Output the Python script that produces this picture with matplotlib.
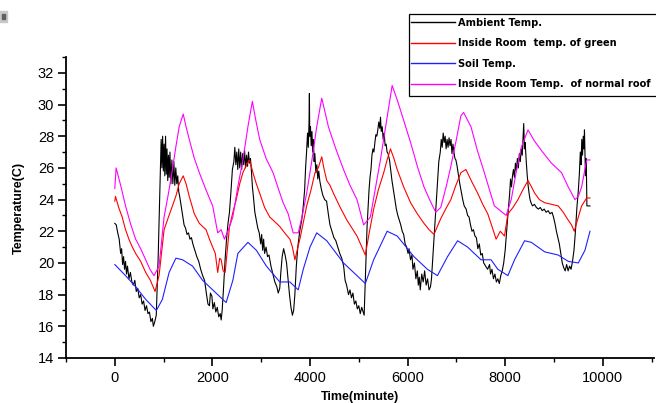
import matplotlib
matplotlib.use("Agg")
import matplotlib.pyplot as plt
from matplotlib.patches import Rectangle
from matplotlib.ticker import MultipleLocator

# ---- data: time (minute) and temperature (C) ----
ambient_t = [0, 30, 60, 90, 120, 140, 160, 180, 200, 220, 240, 260, 290, 320, 350, 380, 410, 440,
             470, 500, 530, 560, 590, 620, 650, 680, 710, 740, 770, 790, 820, 850, 870, 890, 910,
             930, 950, 965, 980, 995, 1010, 1025, 1040, 1055, 1070, 1085, 1100, 1115, 1130, 1150,
             1170, 1190, 1210, 1230, 1250, 1270, 1290, 1310, 1330, 1360, 1390, 1420, 1450, 1480,
             1510, 1540, 1570, 1600, 1640, 1680, 1720, 1760, 1800, 1840, 1880, 1910, 1940, 1960,
             1990, 2010, 2040, 2070, 2100, 2130, 2160, 2180, 2200, 2230, 2260, 2290, 2320, 2350,
             2380, 2410, 2440, 2460, 2480, 2500, 2520, 2540, 2560, 2580, 2600, 2620, 2640, 2660,
             2680, 2700, 2720, 2740, 2760, 2780, 2800, 2820, 2840, 2870, 2900, 2930, 2960, 2990,
             3010, 3030, 3050, 3070, 3100, 3130, 3160, 3200, 3240, 3280, 3320, 3350, 3380, 3400,
             3430, 3460, 3490, 3520, 3550, 3580, 3610, 3640, 3665, 3690, 3720, 3750, 3790, 3830,
             3860, 3890, 3910, 3930, 3950, 3965, 3980, 3988, 3995, 4010, 4025, 4040, 4055, 4070,
             4085, 4100, 4120, 4140, 4160, 4180, 4200, 4230, 4260, 4300, 4340, 4380, 4410, 4450,
             4490, 4530, 4570, 4610, 4650, 4690, 4720, 4750, 4790, 4820, 4850, 4880, 4910, 4940,
             4970, 5000, 5030, 5060, 5090, 5110, 5130, 5150, 5170, 5190, 5210, 5230, 5250, 5270,
             5290, 5310, 5330, 5350, 5370, 5390, 5410, 5430, 5445, 5460, 5480, 5500, 5520, 5540,
             5560, 5580, 5600, 5630, 5650, 5680, 5710, 5740, 5770, 5800, 5830, 5860, 5890, 5920,
             5950, 5980, 6010, 6030, 6060, 6090, 6110, 6140, 6170, 6200, 6220, 6240, 6260, 6290,
             6320, 6350, 6380, 6410, 6440, 6470, 6490, 6520, 6550, 6580, 6610, 6640, 6670, 6690,
             6710, 6730, 6750, 6770, 6790, 6810, 6830, 6850, 6870, 6890, 6910, 6930, 6950, 6970,
             6990, 7010, 7040, 7070, 7100, 7130, 7160, 7200, 7230, 7260, 7290, 7320, 7350, 7380,
             7410, 7440, 7470, 7500, 7530, 7560, 7600, 7640, 7680, 7700, 7730, 7760, 7790, 7820,
             7850, 7880, 7910, 7940, 7970, 8000, 8030, 8060, 8090, 8110, 8130, 8150, 8170, 8190,
             8210, 8230, 8250, 8270, 8290, 8310, 8330, 8350, 8365, 8380, 8395, 8410, 8430, 8450,
             8470, 8490, 8510, 8530, 8560, 8600, 8640, 8680, 8720, 8760, 8800, 8840, 8880, 8920,
             8960, 8990, 9020, 9050, 9080, 9110, 9140, 9170, 9200, 9230, 9260, 9290, 9320, 9350,
             9380, 9410, 9440, 9470, 9500, 9520, 9540, 9555, 9570, 9585, 9600, 9615, 9625, 9635,
             9645, 9655, 9665, 9675, 9738]
ambient_T = [22.5, 22.4, 21.9, 21.5, 20.6, 20.9, 19.9, 20.4, 19.6, 20.1, 19.3, 19.8, 19.0, 19.4,
             18.8, 18.6, 18.9, 18.2, 18.4, 17.8, 18.0, 17.4, 17.6, 17.0, 17.3, 16.8, 16.9, 16.3,
             16.5, 16.0, 16.3, 16.7, 18.5, 20.5, 23.0, 25.5, 27.8, 26.0, 28.0, 25.8, 27.5, 25.5,
             28.0, 25.6, 27.2, 25.2, 26.8, 25.4, 27.0, 25.0, 26.5, 25.0, 26.4, 24.9, 26.0, 25.0,
             25.5, 24.5, 24.2, 23.6, 23.0, 22.4, 22.2, 21.8, 21.9, 21.5, 21.6, 21.2, 20.8, 20.4,
             20.1, 19.6, 19.2, 18.9, 18.0, 17.4, 17.3, 18.1, 17.9, 17.1, 17.5, 16.9, 17.2, 16.6,
             16.8, 16.4, 17.0, 18.5, 20.2, 21.5, 22.5, 23.2, 24.5, 25.9, 26.4, 27.3, 26.2, 27.0,
             25.9, 27.2, 26.0, 27.0, 25.9, 26.9, 26.2, 27.1, 26.0, 26.8, 26.1, 27.0, 26.3, 26.6,
             25.8, 24.8, 24.2, 23.2, 22.7, 22.2, 21.9, 21.2, 21.8, 20.8, 21.5, 20.6, 21.0, 20.4,
             20.5, 19.8, 19.3, 18.8, 18.5, 18.1, 18.4, 19.3, 20.4, 20.9, 20.5, 20.0, 19.0, 18.0,
             17.2, 16.7, 17.0, 18.0, 19.8, 21.0, 22.0, 22.7, 23.5, 24.6, 26.0, 27.0, 28.2, 27.3,
             28.8, 30.7, 28.0, 28.6, 27.4, 28.3, 27.0, 27.8, 26.4, 26.9, 25.7, 26.2, 25.3, 25.8,
             25.2, 24.7, 24.3, 24.0, 23.9, 23.0, 22.4, 22.0, 21.6, 21.4, 21.0, 20.6, 20.3, 19.8,
             18.9, 18.6, 18.0, 18.3, 17.8, 18.1, 17.4, 17.6, 17.1, 17.3, 16.8, 17.2, 16.9, 16.7,
             18.5, 20.5, 22.3, 23.5, 24.6, 25.4, 25.9, 26.8, 27.2, 27.0, 27.6, 28.1, 28.0, 28.4,
             28.9, 28.5, 29.2, 28.3, 28.6, 27.8, 28.2, 27.4, 27.5, 27.0, 26.9, 26.5, 26.0, 25.2,
             24.6, 24.0, 23.4, 23.0, 22.7, 22.4, 22.0, 21.8, 21.2, 21.0, 20.6, 20.9, 20.2, 20.5,
             19.6, 20.0, 19.0, 19.5, 18.6, 19.1, 18.3, 19.3, 18.8, 19.5, 18.6, 19.0, 18.3, 18.5,
             19.0, 20.5, 22.0, 23.5, 25.0, 26.4, 27.0, 27.8, 27.3, 28.2, 27.6, 28.0, 27.2, 27.8,
             27.3, 27.9, 27.4, 27.8, 26.9, 27.5, 27.0, 26.6, 26.5, 26.2, 25.6, 25.0, 24.5, 24.0,
             23.6, 23.4, 23.0, 22.9, 22.4, 22.0, 22.1, 21.7, 21.6, 20.9, 21.2, 20.5, 20.6, 20.0,
             19.8, 19.6, 19.9, 19.3, 19.6, 19.0, 19.3, 18.8, 19.0, 18.7, 19.2, 19.5, 20.0, 20.8,
             22.0, 23.2, 24.3, 25.3, 24.8, 25.5, 25.9, 25.4, 26.3, 25.8, 26.6, 26.0, 26.9, 26.4,
             27.2, 26.8, 27.8, 28.8, 27.2, 27.6, 26.5, 25.6, 24.9, 24.4, 24.0, 23.8, 23.6, 23.7,
             23.5, 23.4, 23.5, 23.3, 23.4, 23.2, 23.3, 23.1, 23.2, 22.9, 22.5, 22.0, 21.6, 21.2,
             20.6, 20.0, 19.7, 19.5, 19.9, 19.5, 19.8, 19.6, 20.1, 20.8, 22.0, 23.5, 24.6, 25.6,
             27.0, 26.2, 27.8, 26.8, 28.0, 27.2, 28.4, 27.0, 25.5, 26.6, 25.8, 23.6, 23.6]

green_t = [0, 14, 80, 151, 220, 289, 360, 427, 530, 633, 730, 825, 907, 1010, 1100, 1181, 1250,
           1320, 1402, 1460, 1526, 1630, 1732, 1800, 1870, 1940, 2006, 2060, 2109, 2150, 2180,
           2220, 2262, 2351, 2420, 2489, 2560, 2625, 2700, 2763, 2831, 2900, 2969, 3070, 3175,
           3280, 3381, 3480, 3588, 3640, 3691, 3800, 3932, 4020, 4103, 4170, 4241, 4290, 4344,
           4410, 4480, 4620, 4757, 4860, 4963, 5050, 5134, 5220, 5305, 5400, 5511, 5580, 5649,
           5720, 5787, 5920, 6062, 6200, 6336, 6440, 6542, 6610, 6680, 6780, 6887, 6990, 7093,
           7196, 7320, 7437, 7540, 7643, 7730, 7814, 7900, 7986, 8056, 8160, 8262, 8360, 8468,
           8540, 8606, 8700, 8810, 8950, 9087, 9190, 9292, 9360, 9416, 9490, 9567, 9670, 9738]
green_T = [23.9, 24.2, 23.5, 22.9, 22.1, 21.5, 21.0, 20.6, 20.1, 19.4, 18.9, 18.2, 19.2, 22.1,
           22.9, 23.6, 24.2, 25.0, 25.5, 25.0, 24.2, 23.1, 22.5, 22.3, 22.1, 21.5, 21.0, 20.6,
           19.4, 20.3, 20.2, 19.5, 19.4, 22.3, 23.2, 24.0, 25.0, 25.7, 26.2, 26.5, 25.7, 25.0,
           24.4, 23.5, 22.9, 22.6, 22.3, 21.9, 21.5, 21.0, 20.2, 21.6, 23.6, 24.6, 25.7, 26.0,
           26.7, 25.9, 25.2, 24.9, 24.4, 23.5, 22.7, 22.2, 21.7, 21.1, 20.5, 22.0, 23.4, 24.6,
           25.7, 26.5, 27.2, 26.6, 25.9, 24.8, 23.8, 23.1, 22.5, 22.1, 21.8, 22.3, 22.8, 23.4,
           24.0, 24.9, 25.7, 25.9, 25.1, 24.4, 23.7, 23.1, 22.3, 21.5, 22.0, 21.7, 23.1, 23.5,
           24.0, 24.6, 25.2, 24.8, 24.4, 24.0, 23.8, 23.7, 23.6, 23.2, 22.7, 22.4, 22.0, 22.8,
           23.6, 24.1, 24.1]

soil_t = [0, 220, 427, 633, 852, 975, 1113, 1252, 1388, 1594, 1800, 2006, 2212, 2282, 2419, 2522,
          2728, 2901, 3107, 3381, 3588, 3759, 3862, 4000, 4138, 4344, 4687, 4963, 5134, 5305,
          5581, 5787, 6130, 6406, 6612, 6819, 7025, 7231, 7505, 7711, 7849, 8056, 8192, 8398,
          8536, 8810, 9087, 9292, 9499, 9635, 9738]
soil_T = [19.9, 19.2, 18.5, 17.7, 17.0, 17.7, 19.4, 20.3, 20.2, 19.8, 18.9, 18.3, 17.7, 17.5,
          18.9, 20.6, 21.3, 20.8, 19.8, 18.8, 18.8, 18.3, 19.6, 21.0, 21.9, 21.4, 20.0, 19.2,
          18.7, 20.2, 22.0, 21.7, 20.4, 19.6, 19.2, 20.4, 21.4, 21.0, 20.2, 20.2, 19.6, 19.2,
          20.2, 21.4, 21.3, 20.7, 20.5, 20.1, 20.0, 20.8, 22.0]

normal_t = [0, 27, 120, 220, 320, 427, 530, 633, 720, 804, 907, 1010, 1100, 1181, 1250, 1320,
            1402, 1460, 1526, 1630, 1732, 1870, 2006, 2109, 2180, 2247, 2330, 2419, 2520, 2625,
            2728, 2819, 2890, 2969, 3100, 3243, 3350, 3450, 3553, 3656, 3759, 3850, 3932, 4040,
            4138, 4241, 4310, 4377, 4530, 4687, 4820, 4963, 5100, 5237, 5340, 5443, 5581, 5684,
            5787, 5920, 6062, 6200, 6336, 6450, 6577, 6680, 6790, 6887, 7000, 7093, 7148, 7299,
            7430, 7573, 7680, 7779, 7900, 8021, 8124, 8230, 8330, 8468, 8600, 8742, 8948, 9155,
            9292, 9430, 9500, 9567, 9670, 9738]
normal_T = [24.7, 26.0, 24.9, 23.6, 22.5, 21.5, 20.9, 20.2, 19.6, 19.2, 19.8, 22.9, 24.4, 25.9,
            27.3, 28.6, 29.4, 28.6, 27.8, 26.6, 25.7, 24.6, 23.6, 21.9, 22.1, 21.5, 22.1, 22.9,
            24.8, 26.5, 28.6, 30.2, 29.0, 27.8, 26.6, 25.7, 24.7, 23.8, 23.1, 21.9, 21.9, 23.1,
            24.4, 26.5, 28.6, 30.4, 29.5, 28.6, 27.2, 25.9, 24.9, 24.0, 22.4, 22.9, 24.7, 26.5,
            29.2, 31.2, 30.3, 29.0, 27.6, 26.1, 24.8, 24.0, 23.2, 23.5, 24.8, 26.1, 27.8, 29.3,
            29.5, 28.6, 27.1, 25.7, 24.6, 23.6, 23.3, 23.0, 24.0, 25.8, 27.3, 28.4, 27.7, 27.1,
            26.3, 25.7, 24.8, 24.0, 24.2, 24.8, 26.5, 26.5]

labels = ["Ambient Temp.", "Inside Room  temp. of green", "Soil Temp.",
          "Inside Room Temp.  of normal roof"]
colors = ["#000000", "#ff0000", "#2020ff", "#ff00ff"]

plt.rcParams["font.family"] = ["Liberation Sans", "DejaVu Sans"]

fig = plt.figure(figsize=(6.56, 4.03), dpi=100)
ax = fig.add_axes([66 / 656, 1 - 358 / 403, (654 - 66) / 656, (358 - 57) / 403])

series = [(ambient_t, ambient_T), (green_t, green_T), (soil_t, soil_T), (normal_t, normal_T)]
handles = []
for (t, T), c, lab in zip(series, colors, labels):
    h, = ax.plot(t, T, color=c, lw=0.8, label=lab)
    handles.append(h)

ax.set_xlim(-1000, 11050)
ax.set_ylim(14, 33)
ax.xaxis.set_major_locator(MultipleLocator(2000))
ax.xaxis.set_minor_locator(MultipleLocator(1000))
ax.yaxis.set_major_locator(MultipleLocator(2))
ax.yaxis.set_minor_locator(MultipleLocator(1))

for s in ("top", "right"):
    ax.spines[s].set_visible(False)
for s in ("left", "bottom"):
    ax.spines[s].set_linewidth(1.3)

ax.tick_params(which="major", direction="out", length=5.5, width=1.2, labelsize=10.5)
ax.tick_params(axis="x", which="major", pad=4)
ax.tick_params(axis="y", which="major", pad=3)
ax.tick_params(which="minor", direction="out", length=3, width=1.0)

fig.text(360 / 656, 1 - 397 / 403, "Time(minute)", ha="center", va="center",
         fontsize=9, fontweight="bold")
ax.set_ylabel("Temperature(C)", fontsize=9, fontweight="bold", labelpad=9)

# legend entries without their own frame; the box is drawn separately and runs off the right edge
leg = fig.legend(handles=handles, loc="upper left",
                 bbox_to_anchor=(411 / 656, 1 - 17.5 / 403), borderaxespad=0,
                 frameon=False, borderpad=0,
                 prop={"family": "DejaVu Sans", "weight": "bold", "size": 7.1},
                 handlelength=4.5, handletextpad=0.3, labelspacing=1.07)
for line in leg.get_lines():
    line.set_linewidth(1.0)
fig.patches.append(Rectangle((409 / 656, 1 - 96 / 403), 260 / 656, 82 / 403,
                             transform=fig.transFigure, facecolor="white",
                             edgecolor="black", linewidth=0.9, zorder=4))
leg.set_zorder(5)

# small grey marker in the upper-left corner
fig.patches.append(Rectangle((0, 1 - 22 / 403), 7 / 656, 11 / 403,
                             transform=fig.transFigure, color="#c8c8c8", zorder=5))
fig.patches.append(Rectangle((2 / 656, 1 - 19 / 403), 3 / 656, 5 / 403,
                             transform=fig.transFigure, color="#606060", zorder=6))

fig.savefig("out.png", dpi=100)
